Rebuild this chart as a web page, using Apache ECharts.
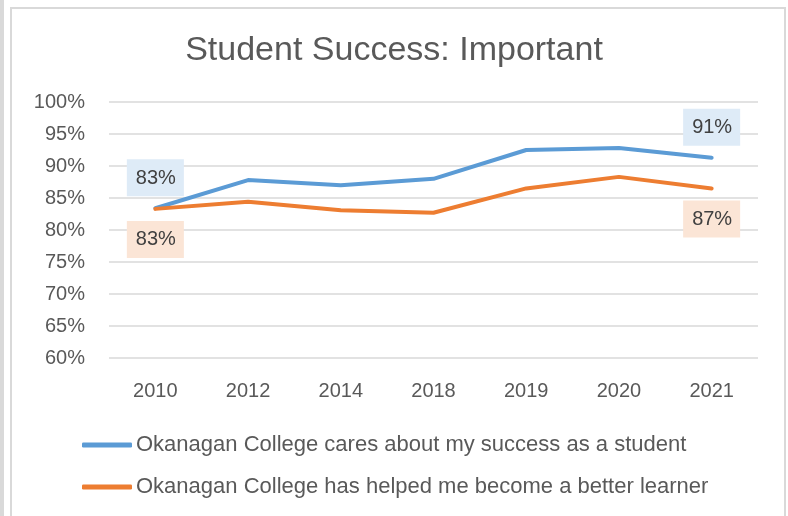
<!DOCTYPE html>
<html>
<head>
<meta charset="utf-8">
<script src="https://cdn.jsdelivr.net/npm/echarts@6/dist/echarts.min.js"></script>
<style>
html,body{margin:0;padding:0;background:#fff;}
#main{width:788px;height:516px;}
</style>
</head>
<body>
<div id="main"></div>
<script>
var years = ['2010','2012','2014','2018','2019','2020','2021'];
var caresSuccess = [83.4, 87.8, 87.0, 88.0, 92.5, 92.8, 91.3];
var betterLearner = [83.3, 84.4, 83.1, 82.7, 86.5, 88.3, 86.5];
var seriesNames = ['Okanagan College cares about my success as a student',
                   'Okanagan College has helped me become a better learner'];

var FONT = '"Liberation Sans", Arial, sans-serif';
var TEXT = '#595959';

// only first and last points get a label
function withEnds(values, pos, bg) {
  return values.map(function (v, i) {
    if (i == 0 || i == values.length - 1) {
      return {
        value: v,
        label: {
          show: true, position: pos, distance: 12,
          formatter: function (p) { return Math.round(p.value) + '%'; },
          backgroundColor: bg, padding: [9, 8, 8, 9],
          color: '#404040', fontSize: 20, fontFamily: FONT
        }
      };
    }
    return v;
  });
}

var myChart = echarts.init(document.getElementById('main'));
myChart.setOption({
  animation: false,
  title: {
    text: 'Student Success: Important', left: 'center', top: 29,
    textStyle: { fontSize: 34, fontWeight: 'normal', color: TEXT, fontFamily: FONT }
  },
  graphic: [
    { type: 'rect', shape: { x: 0, y: -5, width: 4, height: 530 }, style: { fill: '#d9d9d9' } },
    { type: 'rect', shape: { x: 11, y: 8, width: 774, height: 520 }, style: { fill: 'none', stroke: '#d9d9d9', lineWidth: 2 } }
  ],
  grid: { left: 109, right: 30, top: 102, bottom: 158 },
  legend: {
    orient: 'vertical', left: 77, top: 429, itemGap: 20,
    itemWidth: 50, itemHeight: 5, icon: 'roundRect',
    textStyle: { fontSize: 22, color: TEXT, fontFamily: FONT, padding: [0, 0, 0, -1] },
    data: seriesNames
  },
  xAxis: {
    type: 'category', data: years, boundaryGap: true,
    axisLine: { show: false }, axisTick: { show: false },
    axisLabel: { fontSize: 20, color: TEXT, fontFamily: FONT, margin: 23 }
  },
  yAxis: {
    type: 'value', min: 60, max: 100, interval: 5,
    axisLabel: { formatter: '{value}%', fontSize: 20, color: TEXT, fontFamily: FONT, margin: 24 },
    splitLine: { lineStyle: { color: '#d9d9d9', width: 1.5 } },
    axisLine: { show: false }, axisTick: { show: false }
  },
  series: [
    {
      name: seriesNames[0], type: 'line', data: withEnds(caresSuccess, 'top', '#deebf7'),
      symbol: 'circle', symbolSize: 0, showSymbol: true, color: '#5b9bd5',
      lineStyle: { width: 4, cap: 'round' }
    },
    {
      name: seriesNames[1], type: 'line', data: withEnds(betterLearner, 'bottom', '#fbe5d6'),
      symbol: 'circle', symbolSize: 0, showSymbol: true, color: '#ed7d31',
      lineStyle: { width: 4, cap: 'round' }
    }
  ]
});

window.addEventListener('resize', function () { myChart.resize(); });
</script>
</body>
</html>
